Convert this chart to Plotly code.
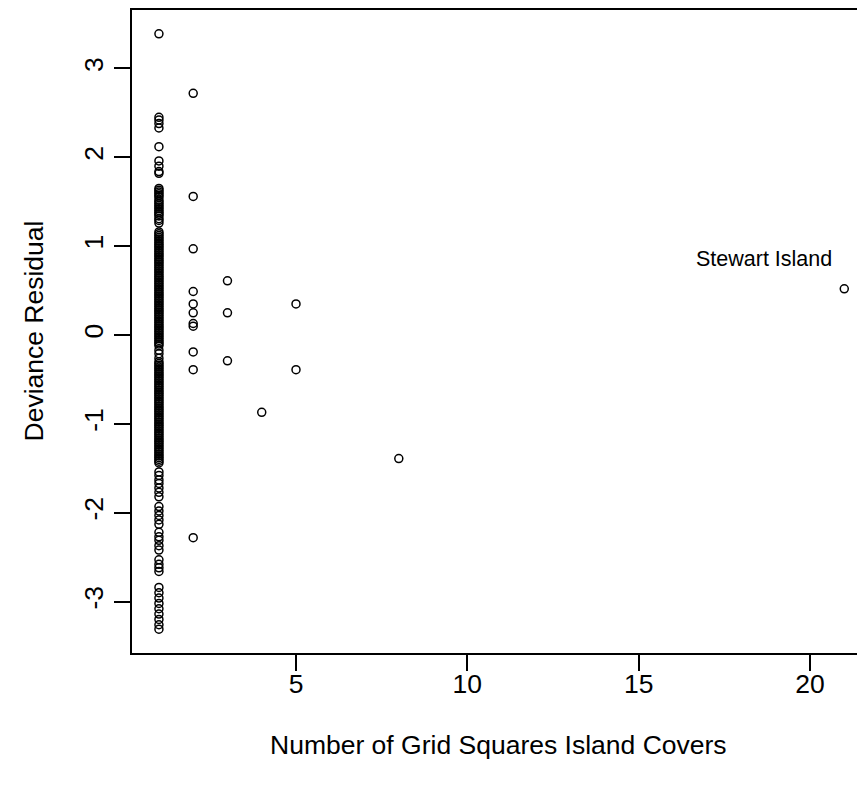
import plotly.graph_objects as go

# Number of grid squares covered by each island (x) and deviance residuals (y)
x_one_values = [3.39, 2.45, 2.42, 2.38, 2.33, 2.12, 1.96, 1.90, 1.84, 1.82,
                1.65, 1.63, 1.61, 1.59, 1.57, 1.55, 1.52, 1.50, 1.48, 1.46, 1.44,
                1.42, 1.40, 1.38, 1.36, 1.34, 1.31, 1.29, 1.26,
                1.16, 1.14, 1.12, 1.10, 1.08, 1.06, 1.04, 1.02, 1.00, 0.98, 0.96,
                0.94, 0.92, 0.90, 0.88, 0.86, 0.84, 0.82, 0.80, 0.78, 0.76, 0.74,
                0.72, 0.70, 0.68, 0.66, 0.64, 0.62, 0.60, 0.58, 0.56, 0.54, 0.52,
                0.50, 0.48, 0.46, 0.44, 0.42, 0.40, 0.38, 0.36, 0.34, 0.32, 0.30,
                0.28, 0.26, 0.24, 0.22, 0.20, 0.18, 0.16, 0.14, 0.12, 0.10, 0.08,
                0.06, 0.04, 0.02, 0.00, -0.02, -0.04, -0.06, -0.08, -0.10, -0.12,
                -0.17, -0.21, -0.26, -0.30, -0.32, -0.34, -0.36, -0.38, -0.40,
                -0.42, -0.44, -0.46, -0.48, -0.50, -0.52, -0.54, -0.56, -0.58,
                -0.60, -0.62, -0.64, -0.66, -0.68, -0.70, -0.72, -0.74, -0.76,
                -0.78, -0.80, -0.82, -0.84, -0.86, -0.88, -0.90, -0.92, -0.94,
                -0.96, -0.98, -1.00, -1.02, -1.04, -1.06, -1.08, -1.10, -1.12,
                -1.14, -1.16, -1.18, -1.20, -1.22, -1.24, -1.26, -1.28, -1.30,
                -1.32, -1.34, -1.36, -1.38, -1.40, -1.42, -1.44,
                -1.54, -1.58, -1.63, -1.67, -1.72, -1.77, -1.82,
                -1.93, -1.98, -2.03, -2.08, -2.13,
                -2.22, -2.27, -2.31, -2.37, -2.42,
                -2.53, -2.58, -2.62, -2.66,
                -2.84, -2.90, -2.96, -3.02, -3.08, -3.14, -3.20, -3.26, -3.31]
x_two_values = [2.72, 1.56, 0.97, 0.49, 0.35, 0.25, 0.13, 0.10, -0.19, -0.39, -2.28]
x_three_values = [0.61, 0.25, -0.29]
x_four_values = [-0.87]
x_five_values = [0.35, -0.39]
x_eight_values = [-1.39]
x_twentyone_values = [0.52]

grid_squares = ([1] * len(x_one_values) + [2] * len(x_two_values) +
                [3] * len(x_three_values) + [4] * len(x_four_values) +
                [5] * len(x_five_values) + [8] * len(x_eight_values) +
                [21] * len(x_twentyone_values))
residuals = (x_one_values + x_two_values + x_three_values + x_four_values +
             x_five_values + x_eight_values + x_twentyone_values)

x_ticks = [5, 10, 15, 20]
y_ticks = [-3, -2, -1, 0, 1, 2, 3]
y_tick_labels = ["-3", "-2", "-1", "0", "1", "2", "3"]

x_title = "Number of Grid Squares Island Covers"
y_title = "Deviance Residual"
label_text = "Stewart Island"
label_x = 21
label_y = 0.52

FONT = "Liberation Sans, Arial, Helvetica, sans-serif"
FS = 26.5
FS_LABEL = 21.5

fig = go.Figure()
fig.add_trace(go.Scatter(
    x=grid_squares, y=residuals, mode="markers",
    marker=dict(symbol="circle-open", size=8, color="black",
                line=dict(color="black", width=1.5)),
    showlegend=False, hoverinfo="x+y"))

fig.add_annotation(x=label_x, y=label_y, xref="x", yref="y", text=label_text,
                   showarrow=False, xanchor="right", yanchor="middle",
                   xshift=-10, yshift=30,
                   font=dict(family=FONT, size=FS_LABEL, color="black"))

# axis titles
fig.add_annotation(x=0.5, y=0, xref="paper", yref="paper", text=x_title,
                   showarrow=False, xanchor="center", yanchor="middle",
                   yshift=-92, font=dict(family=FONT, size=FS, color="black"))
fig.add_annotation(x=0, y=0.5, xref="paper", yref="paper", text=y_title,
                   showarrow=False, xanchor="center", yanchor="middle",
                   textangle=-90, xshift=-99,
                   font=dict(family=FONT, size=FS, color="black"))

fig.update_layout(
    width=857, height=782,
    margin=dict(l=124, r=0, t=2, b=137, pad=0),
    paper_bgcolor="white", plot_bgcolor="white",
    font=dict(family=FONT, size=FS, color="black"),
    xaxis=dict(range=[0.214, 21.605], tickvals=x_ticks,
               showgrid=False, zeroline=False,
               showline=True, mirror=True, linecolor="black", linewidth=1.5,
               ticks="outside", ticklen=16, tickwidth=1.5, tickcolor="black",
               ticklabelstandoff=-10,
               tickfont=dict(family=FONT, size=FS, color="black")),
    yaxis=dict(range=[-3.578, 3.658], tickvals=y_ticks, ticktext=y_tick_labels,
               tickangle=-90,
               showgrid=False, zeroline=False,
               showline=True, mirror=False, linecolor="black", linewidth=1.5,
               ticks="outside", ticklen=16, tickwidth=1.5, tickcolor="black",
               ticklabelstandoff=1,
               tickfont=dict(family=FONT, size=FS, color="black")),
)

fig.write_html("out.html")
